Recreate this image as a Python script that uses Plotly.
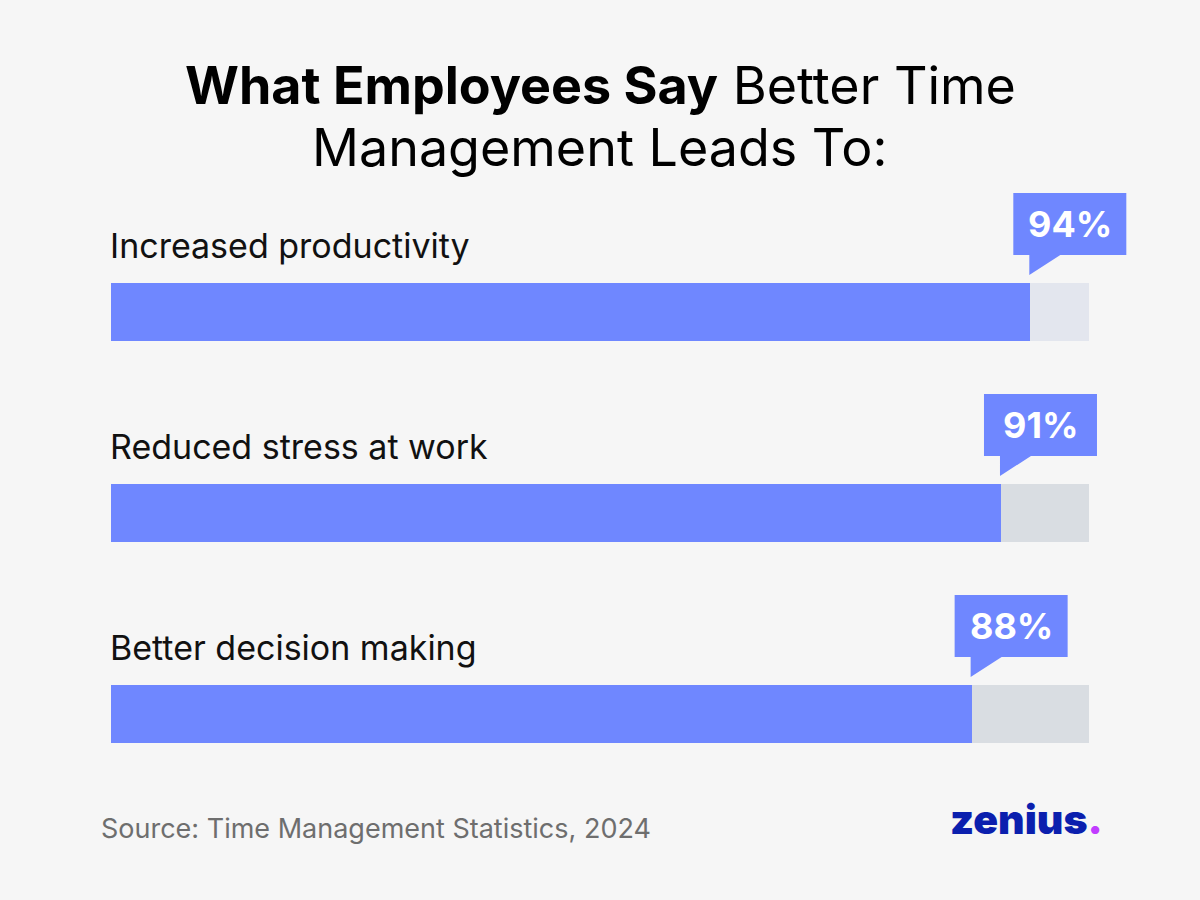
import plotly.graph_objects as go

categories = ["Increased productivity", "Reduced stress at work", "Better decision making"]
values = [94, 91, 88]
track_total = [100, 100, 100]
value_labels = ["94%", "91%", "88%"]

BAR_COLOR = "#6f87ff"
TRACK_COLORS = ["#e3e6ee", "#d9dde2", "#d9dde2"]
BG = "#f6f6f6"
FONT = "Inter"

rows = list(range(len(categories)))

# layout geometry (pixels)
W, H = 1200, 900
PX_PER_UNIT = 978 / 100
X0 = -111 / PX_PER_UNIT
X1 = X0 + W / PX_PER_UNIT
ROW_PX = 201
FIRST_ROW = 312

fig = go.Figure()
fig.add_trace(go.Bar(
    x=track_total, y=rows, orientation="h", base=0,
    marker=dict(color=TRACK_COLORS, line=dict(width=0)),
    width=58 / ROW_PX, hoverinfo="skip", showlegend=False,
))
fig.add_trace(go.Bar(
    x=values, y=rows, orientation="h", base=0,
    marker=dict(color=BAR_COLOR, line=dict(width=0)),
    width=58 / ROW_PX, hoverinfo="skip", showlegend=False,
))

shapes = []
annotations = []
for i, (cat, v, lab) in enumerate(zip(categories, values, value_labels)):
    shapes.append(dict(
        type="path", xref="x", yref="y",
        xsizemode="pixel", ysizemode="pixel",
        xanchor=v, yanchor=i,
        path="M -17,119 L 96,119 L 96,57 L 30,57 L -1,37 L -1,57 L -17,57 Z",
        fillcolor=BAR_COLOR, line=dict(width=0), layer="above",
    ))
    annotations.append(dict(
        x=v, y=i, xref="x", yref="y", text=lab, showarrow=False,
        xanchor="center", yanchor="middle", xshift=39.5, yshift=88,
        font=dict(family=FONT, size=36, color="white", weight=700),
    ))
    annotations.append(dict(
        x=0, y=i, xref="x", yref="y", text=cat, showarrow=False,
        xanchor="left", yanchor="middle", xshift=-3, yshift=67,
        font=dict(family=FONT, size=34, color="#111111"),
    ))

annotations.append(dict(
    x=0.5, y=1 - 85 / H, xref="paper", yref="paper",
    text="<b>What Employees Say</b> Better Time", showarrow=False,
    xanchor="center", yanchor="middle",
    font=dict(family=FONT, size=52, color="#000000"),
))
annotations.append(dict(
    x=0.5, y=1 - 147 / H, xref="paper", yref="paper",
    text="Management Leads To:", showarrow=False,
    xanchor="center", yanchor="middle",
    font=dict(family=FONT, size=52, color="#000000"),
))
annotations.append(dict(
    x=99 / W, y=1 - 828 / H, xref="paper", yref="paper",
    text="Source: Time Management Statistics, 2024", showarrow=False,
    xanchor="left", yanchor="middle",
    font=dict(family=FONT, size=27, color="#6e6e6e"),
))
annotations.append(dict(
    x=1105 / W, y=1 - 819 / H, xref="paper", yref="paper",
    text="zenius<span style='color:#c13cff'>.</span>", showarrow=False,
    xanchor="right", yanchor="middle",
    font=dict(family=FONT, size=41, color="#0b1fae", weight=900),
))

fig.update_layout(
    width=W, height=H,
    margin=dict(l=0, r=0, t=0, b=0, pad=0),
    paper_bgcolor=BG, plot_bgcolor=BG,
    barmode="overlay", bargap=0,
    xaxis=dict(range=[X0, X1], visible=False, fixedrange=True),
    yaxis=dict(range=[(H - FIRST_ROW) / ROW_PX, -FIRST_ROW / ROW_PX],
               visible=False, fixedrange=True),
    shapes=shapes, annotations=annotations,
    showlegend=False,
)

fig.write_html("out.html")
